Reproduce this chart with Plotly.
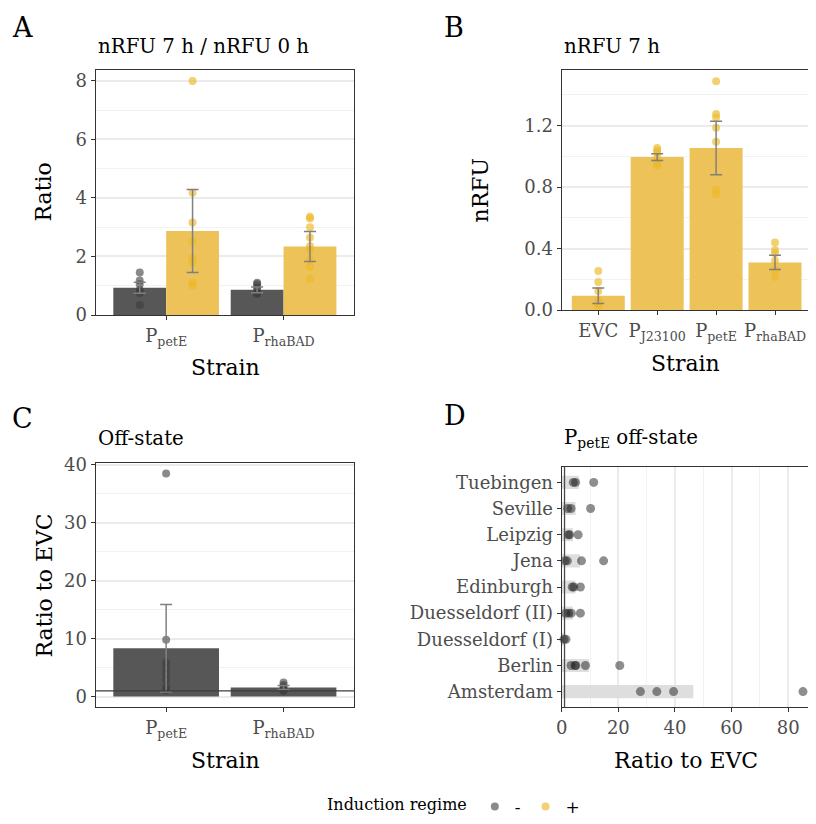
import plotly.graph_objects as go

# The page body has an 8 px margin, so page pixel = 8 + figure pixel.
# Keep the figure inside the visible window (content past x=808 is not shown).
OFF = 8
W, H = 816 - 2 * OFF, 824 - 2 * OFF
FONT = "DejaVu Serif"

# ---------------- data ----------------
regimes = ["-", "+"]

# Panel A: nRFU 7 h / nRFU 0 h
a_strains = ["P<sub>petE</sub>", "P<sub>rhaBAD</sub>"]
a_mean_off = [0.93, 0.86]
a_err_off = [0.19, 0.10]
a_mean_on = [2.87, 2.34]
a_err_on = [1.42, 0.51]
a_pts_off = [[1.45, 1.18, 1.05, 0.85, 0.75, 0.34],
             [1.10, 1.05, 0.95, 0.85, 0.75, 0.72]]
a_pts_on = [[7.99, 4.18, 3.16, 2.50, 1.95, 1.80, 1.10, 1.00],
            [3.36, 3.30, 3.00, 2.65, 2.36, 2.22, 1.90, 1.65, 1.24]]

# Panel B: nRFU 7 h
b_strains = ["EVC", "P<sub>J23100</sub>", "P<sub>petE</sub>", "P<sub>rhaBAD</sub>"]
b_mean = [0.093, 0.996, 1.055, 0.31]
b_err = [0.051, 0.022, 0.174, 0.047]
b_pts = [[0.254, 0.182, 0.124, 0.060, 0.043, 0.026],
         [1.055, 1.037, 1.024, 0.990, 0.955, 0.940],
         [1.490, 1.276, 1.254, 1.187, 1.096, 0.781, 0.755],
         [0.440, 0.390, 0.370, 0.320, 0.260, 0.217]]

# Panel C: Off-state ratio to EVC
c_strains = ["P<sub>petE</sub>", "P<sub>rhaBAD</sub>"]
c_mean = [8.34, 1.55]
c_err = [7.55, 0.35]
c_pts = [[38.5, 9.8, 5.9, 4.9, 3.9, 2.9, 1.7, 1.1],
         [2.45, 2.0, 1.6, 1.2, 0.9]]

# Panel D: PpetE off-state per lab
d_labs = ["Amsterdam", "Berlin", "Duesseldorf (I)", "Duesseldorf (II)", "Edinburgh",
          "Jena", "Leipzig", "Seville", "Tuebingen"]
d_mean = [46.5, 9.6, 1.1, 3.9, 4.85, 6.45, 3.95, 4.9, 6.1]
d_pts = [[27.8, 33.6, 39.5, 85.2],
         [3.3, 4.7, 5.0, 8.4, 20.5],
         [0.8, 1.5],
         [1.4, 2.4, 3.4, 6.6],
         [3.7, 4.3, 6.6],
         [1.2, 2.0, 7.0, 14.8],
         [2.3, 2.8, 5.8],
         [2.1, 3.3, 10.2],
         [4.1, 4.9, 11.3]]

REF_LINE = 1.0  # ratio of 1 = EVC level

# ---------------- styles ----------------
GREY_BAR = "#575757"
YEL_BAR = "#EDC259"
GREY_PT = "rgba(60,60,60,0.6)"
YEL_PT = "rgba(236,184,40,0.65)"
D_PT = "rgba(30,30,30,0.5)"
BAND = "#DEDEDE"
ERR_COL = "#808080"
DODGE = 0.225


def px(x):
    return (x - OFF) / W


def py(y):
    return 1 - (y - OFF) / H


fig = go.Figure()


def err_trace(x, y, e, xa, ya, cap):
    return go.Scatter(x=x, y=y, mode="markers", xaxis=xa, yaxis=ya,
                      marker=dict(size=1, color="rgba(0,0,0,0)"),
                      error_y=dict(type="data", array=e, color=ERR_COL, thickness=1.5, width=cap),
                      showlegend=False, hoverinfo="skip")


# ---- Panel A ----
xa_off = [i - DODGE for i in range(len(a_strains))]
xa_on = [i + DODGE for i in range(len(a_strains))]
fig.add_trace(go.Bar(x=xa_off, y=a_mean_off, width=0.45, marker=dict(color=GREY_BAR, line_width=0),
                     xaxis="x", yaxis="y", showlegend=False))
fig.add_trace(go.Bar(x=xa_on, y=a_mean_on, width=0.45, marker=dict(color=YEL_BAR, line_width=0),
                     xaxis="x", yaxis="y", showlegend=False))
px_off, py_off, px_on, py_on = [], [], [], []
for i, pts in enumerate(a_pts_off):
    px_off += [xa_off[i]] * len(pts)
    py_off += pts
for i, pts in enumerate(a_pts_on):
    px_on += [xa_on[i]] * len(pts)
    py_on += pts
fig.add_trace(go.Scatter(x=px_off, y=py_off, mode="markers", name=regimes[0],
                         marker=dict(size=8, color=GREY_PT), xaxis="x", yaxis="y", showlegend=True))
fig.add_trace(go.Scatter(x=px_on, y=py_on, mode="markers", name=regimes[1],
                         marker=dict(size=8, color=YEL_PT), xaxis="x", yaxis="y", showlegend=True))
fig.add_trace(err_trace(xa_off, a_mean_off, a_err_off, "x", "y", 6))
fig.add_trace(err_trace(xa_on, a_mean_on, a_err_on, "x", "y", 6))

# ---- Panel B ----
xb = list(range(len(b_strains)))
fig.add_trace(go.Bar(x=xb, y=b_mean, width=0.9, marker=dict(color=YEL_BAR, line_width=0),
                     xaxis="x2", yaxis="y2", showlegend=False))
bx, by = [], []
for i, pts in enumerate(b_pts):
    bx += [xb[i]] * len(pts)
    by += pts
fig.add_trace(go.Scatter(x=bx, y=by, mode="markers", marker=dict(size=8, color=YEL_PT),
                         xaxis="x2", yaxis="y2", showlegend=False))
fig.add_trace(err_trace(xb, b_mean, b_err, "x2", "y2", 6))

# ---- Panel C ----
xc = list(range(len(c_strains)))
fig.add_trace(go.Bar(x=xc, y=c_mean, width=0.9, marker=dict(color=GREY_BAR, line_width=0),
                     xaxis="x3", yaxis="y3", showlegend=False))
cx, cy = [], []
for i, pts in enumerate(c_pts):
    cx += [xc[i]] * len(pts)
    cy += pts
fig.add_trace(go.Scatter(x=cx, y=cy, mode="markers", marker=dict(size=8, color=GREY_PT),
                         xaxis="x3", yaxis="y3", showlegend=False))
fig.add_trace(err_trace(xc, c_mean, c_err, "x3", "y3", 6))

# ---- Panel D ----
fig.add_trace(go.Bar(y=d_labs, x=d_mean, orientation="h", width=0.5,
                     marker=dict(color=BAND, line_width=0), xaxis="x4", yaxis="y4", showlegend=False))
dx, dy = [], []
for lab, pts in zip(d_labs, d_pts):
    dx += pts
    dy += [lab] * len(pts)
fig.add_trace(go.Scatter(x=dx, y=dy, mode="markers", marker=dict(size=9, color=D_PT),
                         cliponaxis=False, xaxis="x4", yaxis="y4", showlegend=False))

# reference lines at ratio 1
fig.add_shape(type="line", xref="x3 domain", x0=0, x1=1, yref="y3", y0=REF_LINE, y1=REF_LINE,
              line=dict(color="#3C3C3C", width=1.3), layer="above")
fig.add_shape(type="line", yref="y4 domain", y0=0, y1=1, xref="x4", x0=REF_LINE, x1=REF_LINE,
              line=dict(color="#4A4A4A", width=1.3), layer="above")

# ---------------- axes ----------------
TICKFONT = dict(family=FONT, size=18, color="#4D4D4D")
LINE = dict(showline=True, linecolor="#333333", linewidth=1.3, ticks="outside", ticklen=4,
            tickcolor="#333333", tickwidth=1.3, tickfont=TICKFONT, zeroline=False,
            ticklabeloverflow="allow")


def val_axis(domain, rng, dtick, mdtick, anchor, mirror=True, fmt=None):
    d = dict(domain=domain, range=rng, anchor=anchor, mirror=mirror, tick0=0, dtick=dtick,
             showgrid=True, gridcolor="#EBEBEB", gridwidth=1.5,
             minor=dict(tick0=0, dtick=mdtick, showgrid=True, gridcolor="#F2F2F2", gridwidth=0.9),
             **LINE)
    if fmt:
        d["tickformat"] = fmt
    return d


def cat_axis(domain, rng, labels, anchor, mirror=True):
    return dict(domain=domain, range=rng, anchor=anchor, mirror=mirror, showgrid=False,
                tickmode="array", tickvals=list(range(len(labels))), ticktext=labels, **LINE)


RIGHT = OFF + W  # right edge of the visible figure, in page pixels
A_X = [px(95.7), px(354)]
A_Y = [py(315), py(70)]
B_X = [px(561.7), 1.0]
B_Y = [py(310), py(70)]
C_X = [px(95.7), px(354)]
C_Y = [py(707.3), py(462.7)]
D_X = [px(561.7), 1.0]
D_Y = [py(707.3), py(466.7)]

B_FIRST, B_STEP = 598.3, 58.9   # px of first category and px per category in panel B
D_ZERO, D_SCALE = 561.7, 2.832  # px of x=0 and px per unit in panel D

fig.update_layout(
    xaxis=cat_axis(A_X, [-0.6, 1.6], a_strains, "y"),
    yaxis=val_axis(A_Y, [0, 8.37], 2, 1, "x"),
    xaxis2=cat_axis(B_X, [-(B_FIRST - 561.7) / B_STEP, (RIGHT - B_FIRST) / B_STEP], b_strains, "y2"),
    yaxis2=val_axis(B_Y, [0, 1.5625], 0.4, 0.2, "x2", mirror=False, fmt=".1f"),
    xaxis3=cat_axis(C_X, [-0.6, 1.6], c_strains, "y3"),
    yaxis3=val_axis(C_Y, [-1.85, 40.35], 10, 5, "x3"),
    xaxis4=val_axis(D_X, [0, (RIGHT - D_ZERO) / D_SCALE], 20, 10, "y4"),
    yaxis4=dict(domain=D_Y, range=[-0.6, 8.6], anchor="x4", type="category",
                categoryorder="array", categoryarray=d_labs, showgrid=False, mirror=False, **LINE),
)

# ---------------- text ----------------
ann = []


def text(x, y, s, size, xanchor="center", angle=0, color="black"):
    ann.append(dict(x=px(x), y=py(y), xref="paper", yref="paper", text=s, showarrow=False,
                    xanchor=xanchor, yanchor="middle", textangle=angle,
                    font=dict(family=FONT, size=size, color=color)))


# panel letters
text(22.5, 27, "A", 27)
text(454, 27, "B", 27)
text(22.5, 418, "C", 27)
text(454.5, 415, "D", 27)
# panel titles
text(95.7, 46, "nRFU 7 h / nRFU 0 h", 19.8, xanchor="left")
text(561.7, 46, "nRFU 7 h", 19.8, xanchor="left")
text(95.7, 438, "Off-state", 19.8, xanchor="left")
text(561.7, 438, "P<sub>petE</sub> off-state", 19.8, xanchor="left")
# axis titles
text(43.5, 192, "Ratio", 22, angle=-90)
text(225, 367, "Strain", 22)
text(480.5, 190, "nRFU", 22, angle=-90)
text(685, 363, "Strain", 22)
text(43.5, 586, "Ratio to EVC", 22, angle=-90)
text(225, 760, "Strain", 22)
text(686, 760, "Ratio to EVC", 22)

fig.update_layout(
    width=W, height=H,
    margin=dict(l=0, r=0, t=0, b=0, autoexpand=False),
    paper_bgcolor="white", plot_bgcolor="white",
    barmode="overlay",
    annotations=ann,
    font=dict(family=FONT),
    legend=dict(orientation="h", x=px(455), xanchor="center", y=py(807), yanchor="middle",
                title=dict(text="Induction regime", side="left", font=dict(family=FONT, size=16)),
                font=dict(family=FONT, size=17, color="black"), bgcolor="rgba(0,0,0,0)",
                itemwidth=30),
)

fig.write_html("out.html")
